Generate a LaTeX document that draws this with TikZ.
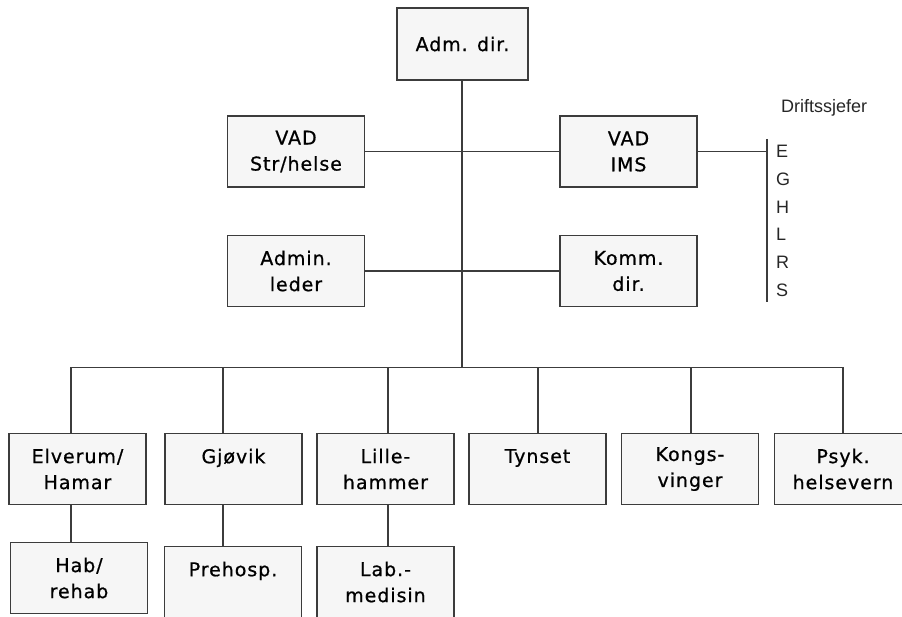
\documentclass[tikz,border=0pt]{standalone}
\usepackage{fontspec}
\setmainfont[LetterSpace=5,FakeBold=0.7]{DejaVu Sans}
\newfontfamily\arialfont{Liberation Sans}
\definecolor{edge}{HTML}{3C3C3C}
\definecolor{boxfill}{HTML}{F6F6F6}

\begin{document}
\begin{tikzpicture}[x=1pt,y=-1pt,
  unit/.style={draw=edge, fill=boxfill, line width=1.3pt, minimum width=137pt,
    minimum height=71pt, inner sep=0pt, align=center,
    font=\fontsize{19}{26}\selectfont},
  link/.style={draw=edge, line width=1.3pt},
  letter/.style={font=\arialfont\fontsize{18}{20}\selectfont, anchor=west,
    inner sep=0pt, text=black!85}]
\useasboundingbox (0,0) rectangle (902,617);
\clip (0,0) rectangle (902,617);

% top management
\node[unit, minimum width=131pt, minimum height=72pt] (adm) at (462.5,44) {Adm. dir.};
\node[unit] (vads)  at (296,151.5)   {VAD\\Str/helse};
\node[unit] (vadi)  at (628.5,151.5) {VAD\\IMS};
\node[unit] (admin) at (296,271)     {Admin.\\leder};
\node[unit] (komm)  at (628.5,271)   {Komm.\\dir.};

% divisions
\node[unit] (elv)   at (77.5,469)  {Elverum/\\Hamar};
\node[unit] (gjo)   at (233.5,469) {Gjøvik\\\mbox{}};
\node[unit] (lil)   at (385.5,469) {Lille-\\hammer};
\node[unit] (tyn)   at (537.5,469) {Tynset\\\mbox{}};
\node[unit] (kon)   at (690,469)   {Kongs-\\vinger};
\node[unit] (psy)   at (843,469)   {Psyk.\\helsevern};

% units under divisions
\node[unit] (hab)   at (79,578)    {Hab/\\rehab};
\node[unit] (pre)   at (233,582)   {Prehosp.\\\mbox{}};
\node[unit] (lab)   at (385.5,582) {Lab.-\\medisin};

% trunk and horizontal branches
\coordinate (bus) at (462,367.5);
\draw[link] (adm.south -| bus) -- (bus);
\draw[link] (vads.east) -- (vadi.west);
\draw[link] (admin.east) -- (komm.west);

% bus to the divisions
\coordinate (b1) at (71,367.5);
\coordinate (b2) at (223,367.5);
\coordinate (b3) at (388,367.5);
\coordinate (b4) at (538,367.5);
\coordinate (b5) at (691,367.5);
\coordinate (b6) at (843,367.5);
\draw[link] (b1) -- (b6);
\draw[link] (b1) -- (b1 |- elv.north);
\draw[link] (b2) -- (b2 |- gjo.north);
\draw[link] (b3) -- (b3 |- lil.north);
\draw[link] (b4) -- (b4 |- tyn.north);
\draw[link] (b5) -- (b5 |- kon.north);
\draw[link] (b6) -- (b6 |- psy.north);

% divisions to their units
\draw[link] (b1 |- elv.south) -- (b1 |- hab.north);
\draw[link] (b2 |- gjo.south) -- (b2 |- pre.north);
\draw[link] (b3 |- lil.south) -- (b3 |- lab.north);

% operations managers
\coordinate (dtop) at (767,139);
\coordinate (dbot) at (767,302);
\draw[link] (vadi.east) -- (vadi.east -| dtop);
\draw[link] (dtop) -- (dbot);
\node[letter] (drift) at (781,108) {Driftssjefer};
\node[letter] (le) at (776,151) {E};
\node[letter] (lg) at (776,179) {G};
\node[letter] (lh) at (776,207) {H};
\node[letter] (ll) at (776,234) {L};
\node[letter] (lr) at (776,262) {R};
\node[letter] (ls) at (776,290) {S};
\end{tikzpicture}
\end{document}
